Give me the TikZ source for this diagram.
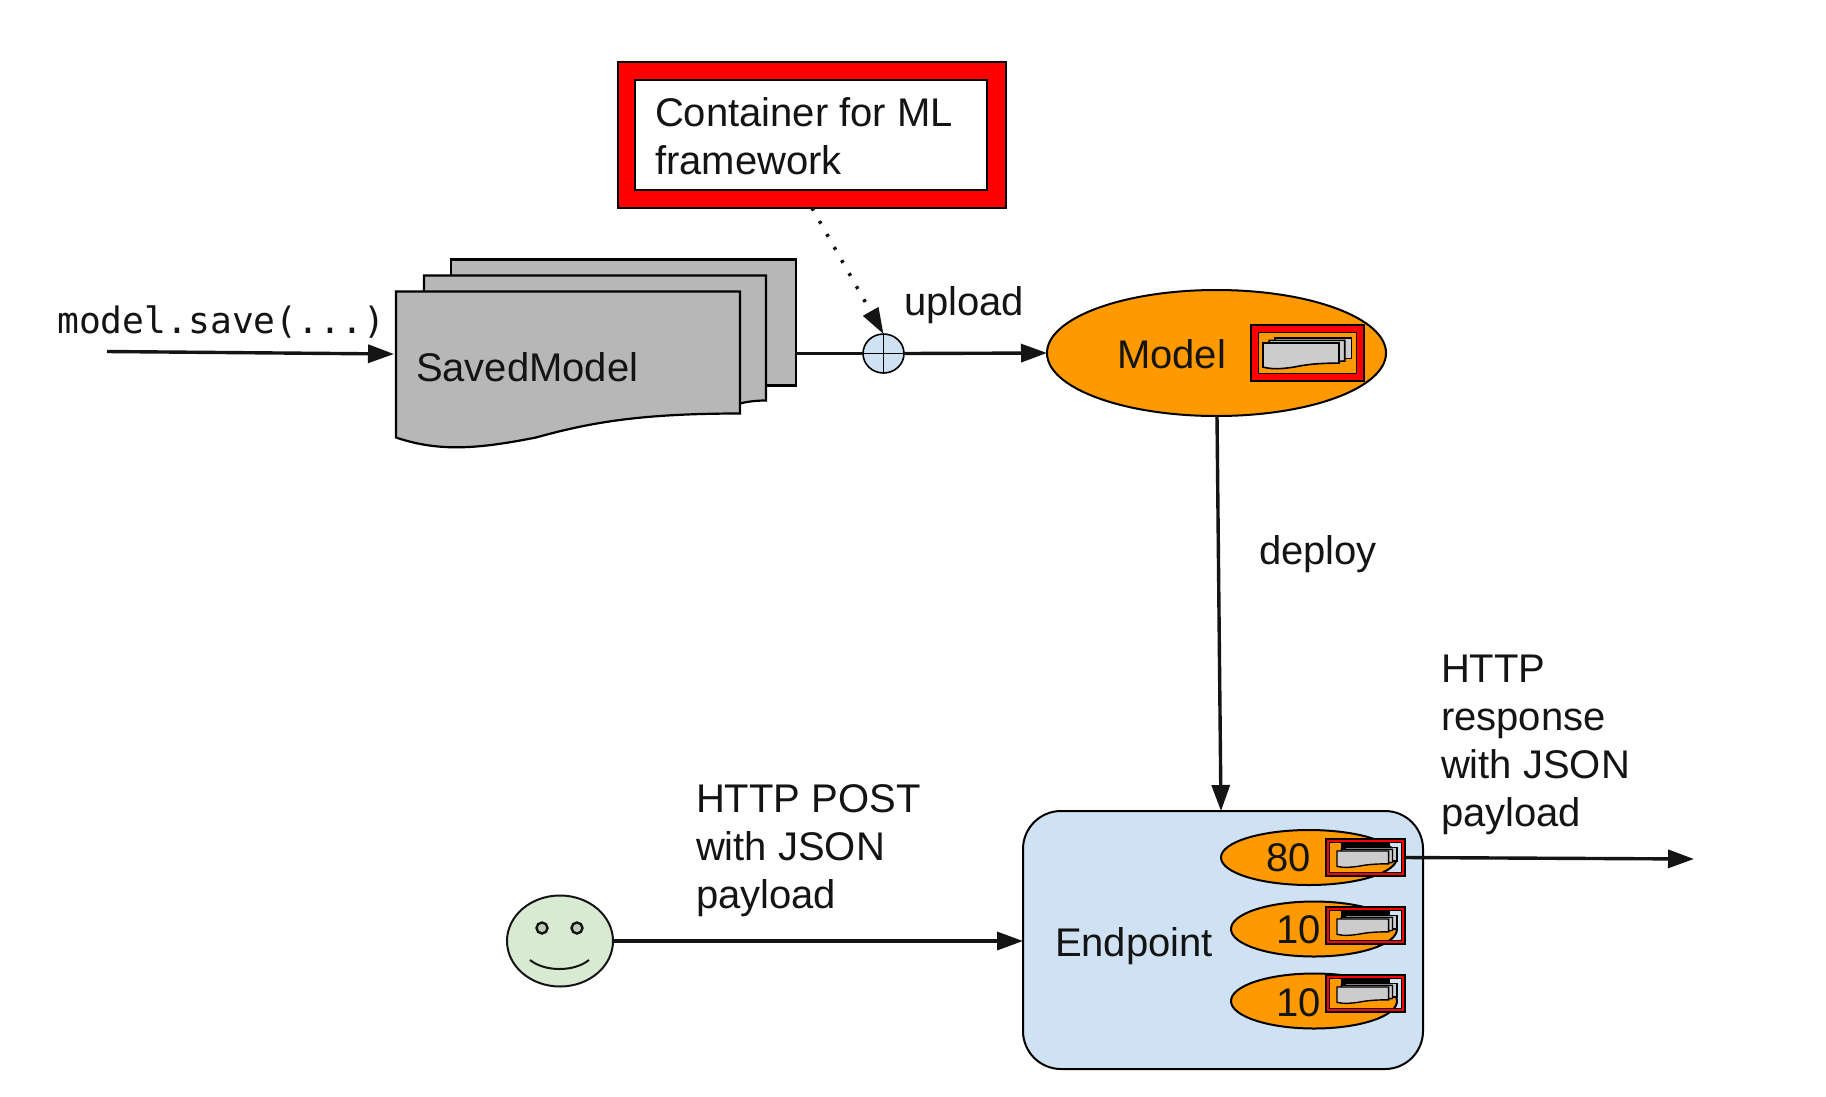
\documentclass[tikz,border=0pt]{standalone}
\usepackage{fontspec}
\setmainfont{Liberation Sans}
\newfontfamily\codefont{DejaVu Sans Mono}
\usetikzlibrary{arrows.meta,shapes.geometric,positioning}
\definecolor{ink}{HTML}{141414}
\definecolor{orangefill}{HTML}{FF9900}
\definecolor{bluefill}{HTML}{CFE2F3}
\definecolor{greenfill}{HTML}{D9EAD3}
\definecolor{sheetgray}{HTML}{B7B7B7}
\definecolor{minigray}{HTML}{CCCCCC}
\newcommand{\sheetstack}[6]{% x y xscale yscale fill linewidth
  \begin{scope}[shift={(#1,#2)},xscale=#3,yscale=#4,draw=black,fill=#5,line width=#6]
    \filldraw (55,-32) rectangle (400,94);
    \filldraw (28,-16) -- (370,-16) -- (370,109) .. controls (360,109) and (352,110) .. (344,112) -- (28,112) -- cycle;
    \filldraw (0,0) -- (344,0) -- (344,122) .. controls (244,122) and (194,131) .. (140,146)
       .. controls (84,157) and (44,161) .. (0,146) -- cycle;
  \end{scope}}
\newcommand{\miniframe}[6]{% name, outer x1,y1,x2,y2, thickness
  \fill[red,even odd rule] (#2,#3) rectangle (#4,#5)
     ([xshift=#6,yshift=#6]#2,#5) rectangle ([xshift=-#6,yshift=-#6]#4,#3);
  \draw[black,line width=1.6pt] ([xshift=#6,yshift=#6]#2,#5) rectangle ([xshift=-#6,yshift=-#6]#4,#3);
  \coordinate (#1c) at ({(#2+#4)/2},{(#3+#5)/2});
  \node[draw=black,line width=1.6pt,rectangle,inner sep=0pt,outer sep=0pt,
     minimum width={(#4-#2)*1pt},minimum height={(#5-#3)*1pt}] (#1) at (#1c) {};}
\tikzset{
  x=1pt,y=-1pt,
  lbl/.style={font=\fontsize{40}{48}\selectfont,text=ink,inner sep=0pt,outer sep=0pt,align=left},
  link/.style={line width=3.4pt,draw=ink,-{Triangle[length=26pt,width=18pt]}},
  plainlink/.style={line width=3.4pt,draw=ink},
  dotlink/.style={line width=3.5pt,draw=ink,dash pattern=on 3pt off 12pt,
     -{Triangle[length=26pt,width=17pt]}},
  oval/.style={ellipse,draw=black,line width=2pt,fill=orangefill,inner sep=0pt,outer sep=0pt},
  endoval/.style={oval,minimum width=176pt,minimum height=55pt},
  box/.style={rectangle,draw=black,line width=2pt,inner sep=0pt,outer sep=0pt},
}
\begin{document}
\begin{tikzpicture}
\useasboundingbox (0,0) rectangle (1826,1096);

% container box
\node[box,fill=red,minimum width=388pt,minimum height=146pt] (frame) at (812,135) {};
\node[box,fill=white,minimum width=352pt,minimum height=110pt] (inner) at (811,135) {};
\node[lbl,anchor=north west] (ctext) at (655,98) {Container for ML\\framework};

% saved model stack
\sheetstack{396}{291.5}{1}{1}{sheetgray}{2.2pt}
\coordinate (stackeast) at (796,353.5);
\coordinate (stackwest) at (394,354);
\node[lbl,anchor=base west] (saved) at (416,381) {SavedModel};
\node[font=\codefont\fontsize{36.3}{40}\selectfont,text=ink,anchor=base west,inner sep=0pt] (save) at (57,333) {model.save(...)};
\coordinate (savestart) at (107,351.5);

% plus
\node[ellipse,draw=black,line width=1.6pt,fill=bluefill,inner sep=0pt,outer sep=0pt,minimum width=41pt,minimum height=39pt] (plus) at (883.5,353.5) {};
\draw[black,line width=1.6pt] (plus.north) -- (plus.south) (plus.west) -- (plus.east);

% model
\node[oval,minimum width=339pt,minimum height=126pt] (model) at (1216.5,353) {};
\node[lbl,anchor=base west] (modeltext) at (1117,368) {Model};
\miniframe{modelmini}{1251}{325}{1364}{381}{7.5pt}
\sheetstack{1263}{343}{0.221}{0.165}{minigray}{1.6pt}

% connectors, top
\draw[link] (savestart) -- (stackwest);
\draw[plainlink] (stackeast) -- (plus.west);
\draw[link] (plus.east) -- (model.west);
\draw[dotlink] (frame.south -| 812,208) -- (plus.north);
\node[lbl,anchor=base west] (upload) at (904,315) {upload};

% endpoint
\node[rectangle,draw=black,line width=2pt,fill=bluefill,rounded corners=38pt,inner sep=0pt,outer sep=0pt,minimum width=400pt,minimum height=258pt] (endpoint) at (1223,940) {};
\node[lbl,anchor=base west] (endtext) at (1055,956) {Endpoint};
\node[endoval] (a) at (1309,857.5) {};
\node[endoval,minimum width=166pt] (b) at (1314,929) {};
\node[endoval,minimum width=166pt] (c) at (1314,1001) {};
\node[lbl,anchor=base west] (at) at (1266,871) {80};
\node[lbl,anchor=base west] (bt) at (1276,943) {10};
\node[lbl,anchor=base west] (ct) at (1276,1016) {10};
\miniframe{mini1}{1326}{839}{1405}{876}{3.5pt}
\miniframe{mini2}{1326}{907}{1405}{944}{3.5pt}
\miniframe{mini3}{1326}{975}{1405}{1012}{3.5pt}
\foreach \yy in {851,919,987}{
  \fill[black] (1341,\yy-8) rectangle (1390,\yy);
  \sheetstack{1337}{\yy}{0.15}{0.105}{minigray}{1.4pt}
}

% face
\node[ellipse,draw=ink,line width=2pt,fill=greenfill,inner sep=0pt,outer sep=0pt,minimum width=106pt,minimum height=91pt] (face) at (560,941) {};
\node[circle,draw=ink,line width=2.4pt,fill=greenfill!70!gray,inner sep=0pt,minimum size=11pt] (eyeL) at (542,928) {};
\node[circle,draw=ink,line width=2.4pt,fill=greenfill!70!gray,inner sep=0pt,minimum size=11pt] (eyeR) at (577,928) {};
\draw[ink,line width=2pt] (530,960) .. controls (545,972) and (574,972) .. (589,960);

% connectors, bottom
\coordinate (modelbottom) at (1217,416);
\coordinate (endtop) at (1221,811);
\draw[link] (modelbottom) -- (endtop);
\draw[link] (face.east) -- (endpoint.west |- face.east);
\coordinate (outend) at (1694,859);
\draw[link] (mini1.east) -- (outend);

% labels
\node[lbl,anchor=base west] (deploy) at (1259,564) {deploy};
\node[lbl,anchor=north west] (post) at (696,785) {HTTP POST\\with JSON\\payload};
\node[lbl,anchor=north west] (resp) at (1441,655) {HTTP\\response\\with JSON\\payload};
\end{tikzpicture}
\end{document}
